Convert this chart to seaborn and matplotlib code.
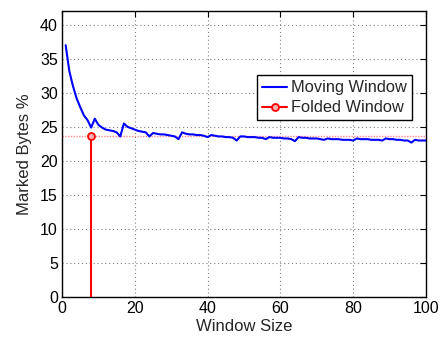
import matplotlib
matplotlib.use("Agg")
import matplotlib.pyplot as plt
from matplotlib.lines import Line2D
from matplotlib.legend_handler import HandlerLine2D
import numpy as np
import pandas as pd
import seaborn as sns

# Moving-window results: marked bytes (%) for window sizes 1..100
window_sizes = list(range(1, 101))
moving_marked = [
    37.0, 33.2, 31.0, 29.2, 27.9, 26.7, 26.0, 24.9, 26.2, 25.3,
    24.9, 24.6, 24.5, 24.4, 24.2, 23.6, 25.5, 25.0, 24.8, 24.6,
    24.4, 24.3, 24.2, 23.6, 24.1, 24.0, 23.9, 23.9, 23.8, 23.7,
    23.6, 23.2, 24.2, 24.0, 23.9, 23.9, 23.8, 23.8, 23.7, 23.5,
    23.8, 23.7, 23.6, 23.6, 23.5, 23.5, 23.4, 23.0, 23.6, 23.6,
    23.5, 23.5, 23.5, 23.4, 23.4, 23.2, 23.5, 23.4, 23.4, 23.4,
    23.3, 23.3, 23.2, 22.9, 23.5, 23.4, 23.4, 23.3, 23.3, 23.3,
    23.2, 23.1, 23.3, 23.2, 23.2, 23.2, 23.1, 23.1, 23.1, 23.0,
    23.3, 23.2, 23.2, 23.2, 23.1, 23.1, 23.1, 23.0, 23.3, 23.2,
    23.2, 23.1, 23.1, 23.0, 23.0, 22.7, 23.1, 23.0, 23.0, 23.0,
]

# Folded-window result
folded_x = [8]
folded_y = [23.6]

x_ticks = [0, 20, 40, 60, 80, 100]
y_ticks = [0, 5, 10, 15, 20, 25, 30, 35, 40]

sns.set_theme(style="white")
plt.rcParams["font.family"] = ["Liberation Sans", "DejaVu Sans"]

fig = plt.figure(figsize=(4.4, 3.38), dpi=100)
ax = fig.add_axes([0.141, 0.121, 0.827, 0.846])

df = pd.DataFrame({"window": window_sizes, "marked": moving_marked})

# Reference level of the folded window
ax.axhline(folded_y[0], color="#ff8a8a", lw=1.0, ls=(0, (1, 1)), zorder=1)

sns.lineplot(data=df, x="window", y="marked", ax=ax, color="#0000ff",
             lw=1.5, zorder=3, label="_nolegend_")

# Stem for the folded window
ax.vlines(folded_x, 0, folded_y, color="#ff0000", lw=1.5, zorder=4)
ax.plot(folded_x, folded_y, ls="none", marker="o", ms=5,
        mfc="#ffb0b0", mec="#ff0000", mew=1.3, zorder=5)

ax.set_xlim(0, 100)
ax.set_ylim(0, 42)
ax.set_xticks(x_ticks)
ax.set_yticks(y_ticks)
ax.grid(True, color="#808080", ls=(0, (1, 2.5)), lw=0.8)
ax.tick_params(direction="in", length=4, width=0.8, top=True, right=True,
               labelsize=11.5, colors="black", pad=3)
for s in ax.spines.values():
    s.set_color("black")
    s.set_linewidth(1.0)

ax.set_xlabel("Window Size", fontsize=12, labelpad=2)
ax.set_ylabel("Marked Bytes %", fontsize=12, labelpad=6)


class EndMarkerHandler(HandlerLine2D):
    def get_xdata(self, legend, xdescent, ydescent, width, height, fontsize):
        xdata, _ = super().get_xdata(legend, xdescent, ydescent, width, height, fontsize)
        return xdata, np.array([xdata[-1]])


h_moving = Line2D([], [], color="#0000ff", lw=1.5)
h_folded = Line2D([], [], color="#ff0000", lw=1.5, marker="o", ms=5,
                  mfc="#ffb0b0", mec="#ff0000", mew=1.3)
leg = ax.legend([h_moving, h_folded], ["Moving Window", "Folded Window"],
                loc="upper left", bbox_to_anchor=(0.537, 0.775),
                fontsize=11.8, frameon=True, fancybox=False, framealpha=1,
                edgecolor="black", borderpad=0.3, handlelength=1.5,
                handletextpad=0.25, labelspacing=0.3, borderaxespad=0,
                handler_map={h_folded: EndMarkerHandler()})
leg.get_frame().set_linewidth(1.0)

fig.savefig("out.png", dpi=100)
